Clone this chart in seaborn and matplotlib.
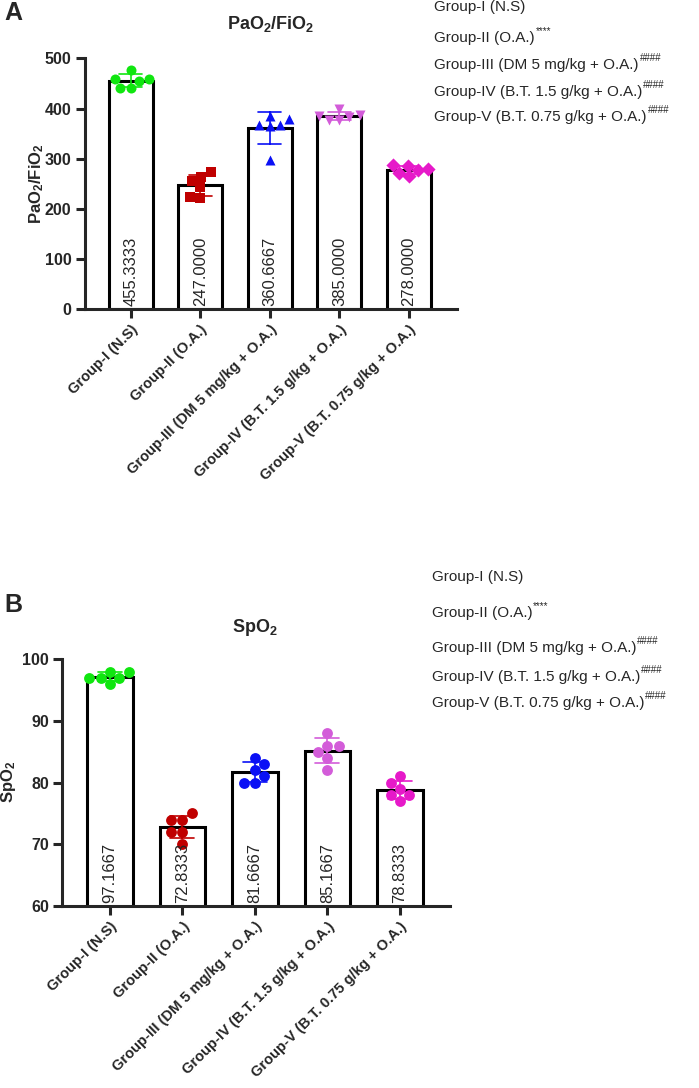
import matplotlib
matplotlib.use("Agg")
import matplotlib.pyplot as plt
import seaborn as sns
import pandas as pd

# groups as on the x axis
groups = ["Group-I (N.S)", "Group-II (O.A.)", "Group-III (DM 5 mg/kg + O.A.)",
          "Group-IV (B.T. 1.5 g/kg + O.A.)", "Group-V (B.T. 0.75 g/kg + O.A.)"]
sig_marks = ["", "****", "####", "####", "####"]

# PaO2/FiO2, six animals per group
pao2_g1 = [442, 459, 476, 454, 459, 442]
pao2_g2 = [264, 273, 244, 256, 221, 224]
pao2_g3 = [385, 380, 365, 368, 368, 298]
pao2_g4 = [377, 388, 383, 385, 400, 377]
pao2_g5 = [272, 288, 277, 286, 266, 279]

# SpO2
spo2_g1 = [97, 98, 97, 97, 98, 96]
spo2_g2 = [74, 75, 72, 74, 72, 70]
spo2_g3 = [80, 83, 81, 84, 82, 80]
spo2_g4 = [86, 88, 86, 84, 82, 85]
spo2_g5 = [81, 79, 77, 78, 80, 78]

colors_a = ["#10e610", "#c00000", "#0a10f5", "#d35cd9", "#e619c9"]
colors_b = ["#10e610", "#c00000", "#0a10f5", "#d35cd9", "#e619c9"]
markers_a = ["o", "s", "^", "v", "D"]
markers_b = ["o", "o", "o", "o", "o"]

W, H = 699, 1088

sns.set_style("ticks")
plt.rcParams["font.family"] = ["Liberation Sans", "DejaVu Sans"]
plt.rcParams["mathtext.fontset"] = "custom"
plt.rcParams["mathtext.rm"] = "Liberation Sans"
plt.rcParams["mathtext.bf"] = "Liberation Sans:bold"
plt.rcParams["mathtext.it"] = "Liberation Sans:italic"


def long_table(series):
    rows = []
    for g, vals in zip(groups, series):
        for v in vals:
            rows.append({"group": g, "value": v})
    return pd.DataFrame(rows)


def px(x, y):
    return x / W, 1 - y / H


def draw_panel(ax, df, colors, markers, ylim, yticks, msize):
    sns.barplot(data=df, x="group", y="value", order=groups, errorbar=None,
                width=0.63, color="white", edgecolor="black", linewidth=2.2,
                saturation=1, ax=ax, zorder=1)
    for i, g in enumerate(groups):
        sub = df[df["group"] == g]
        sns.swarmplot(data=sub, x="group", y="value", order=groups,
                      color=colors[i], marker=markers[i], size=msize,
                      linewidth=0, ax=ax, zorder=3)
    n_before = len(ax.lines)
    sns.pointplot(data=df, x="group", y="value", order=groups, hue="group",
                  hue_order=groups, palette=colors, errorbar="sd", capsize=0.33,
                  markers="", linestyles="none", err_kws={"linewidth": 1.2},
                  legend=False, ax=ax)
    for ln in ax.lines[n_before:]:
        ln.set_zorder(4)

    means = df.groupby("group")["value"].mean().reindex(groups)
    for i, m in enumerate(means):
        ax.text(i, 0.012, f"{m:.4f}", rotation=90, ha="center", va="bottom",
                fontsize=12, transform=ax.get_xaxis_transform(), zorder=5)

    ax.set_ylim(*ylim)
    ax.set_yticks(yticks)
    ax.set_xlim(-0.66, 4.69)
    ax.set_xticks(range(len(groups)))
    ax.set_xticklabels(groups, rotation=45, ha="right", rotation_mode="anchor",
                       fontweight="bold", fontsize=10.5)
    for lab in ax.get_yticklabels():
        lab.set_fontweight("bold")
    ax.tick_params(length=6.5, width=2.2, pad=3)
    ax.tick_params(axis="y", labelsize=11.5)
    ax.tick_params(axis="x", labelsize=10.5)
    ax.set_xlabel("")
    ax.set_ylabel("")
    sns.despine(ax=ax)
    for s in ["left", "bottom"]:
        ax.spines[s].set_linewidth(2.2)


fig = plt.figure(figsize=(W / 100, H / 100), dpi=100)

ax_a = fig.add_axes([84.7 / W, 1 - 309.4 / H, (457 - 84.7) / W, 251 / H])
ax_b = fig.add_axes([62 / W, 1 - 906 / H, (450 - 62) / W, 246.7 / H])

df_a = long_table([pao2_g1, pao2_g2, pao2_g3, pao2_g4, pao2_g5])
df_b = long_table([spo2_g1, spo2_g2, spo2_g3, spo2_g4, spo2_g5])

draw_panel(ax_a, df_a, colors_a, markers_a, (0, 500), range(0, 501, 100), 7.2)
draw_panel(ax_b, df_b, colors_b, markers_b, (60, 100), range(60, 101, 10), 7.8)

# panel letters, titles, y labels
fig.text(*px(13, 13), "A", fontsize=18, fontweight="bold", ha="center", va="center")
fig.text(*px(13, 605), "B", fontsize=18, fontweight="bold", ha="center", va="center")
fig.text(*px(271, 24), r"PaO$_\mathbf{2}$/FiO$_\mathbf{2}$", fontsize=13,
         fontweight="bold", ha="center", va="center")
fig.text(*px(255, 627), r"SpO$_\mathbf{2}$", fontsize=13, fontweight="bold",
         ha="center", va="center")
fig.text(*px(37, 184), r"PaO$_\mathbf{2}$/FiO$_\mathbf{2}$", fontsize=12,
         fontweight="bold", rotation=90, ha="center", va="center")
fig.text(*px(9, 782), r"SpO$_\mathbf{2}$", fontsize=12, fontweight="bold",
         rotation=90, ha="center", va="center")

# legend-style group list with significance marks
legend_a_y = [6.7, 38.3, 65, 91.7, 116.7]
legend_b_y = [576.7, 613.3, 648.3, 676.7, 703.3]
fig.canvas.draw()
renderer = fig.canvas.get_renderer()
for x0, ys in [(434, legend_a_y), (431.7, legend_b_y)]:
    for g, mark, y in zip(groups, sig_marks, ys):
        t = fig.text(*px(x0, y), g, fontsize=11, ha="left", va="center")
        if mark:
            bb = t.get_window_extent(renderer)
            fig.text((bb.x1 + 1) / W, (bb.y1 - 5) / H, mark, fontsize=7,
                     ha="left", va="bottom")

fig.savefig("out.png", dpi=100)
